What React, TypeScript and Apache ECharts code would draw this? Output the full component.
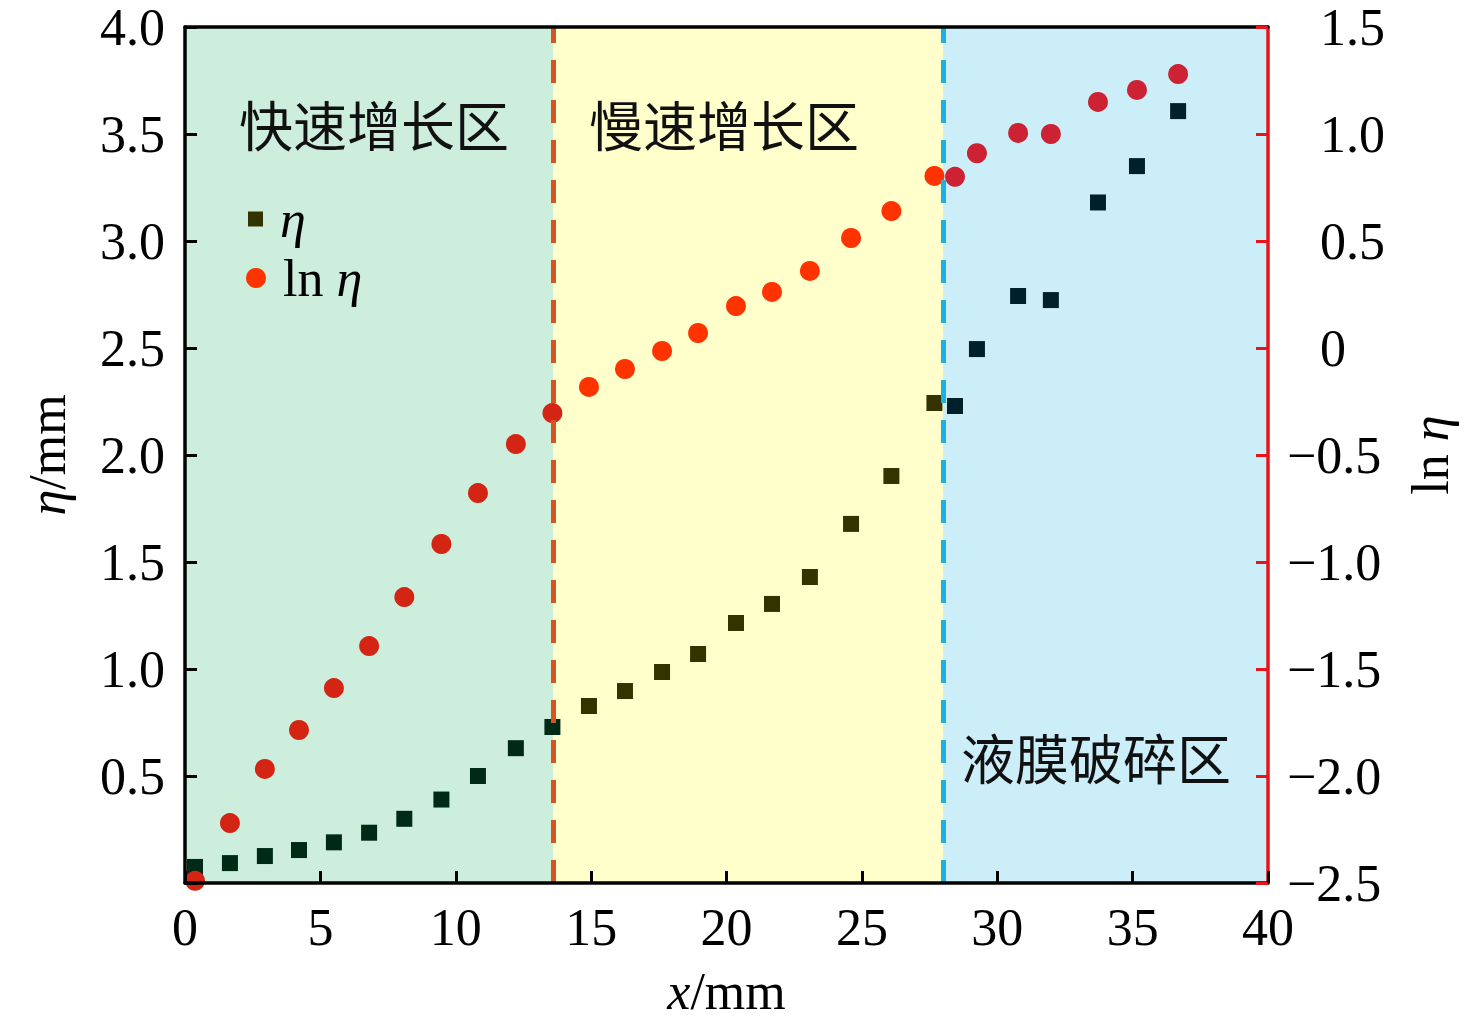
import React, { useEffect, useRef } from "react";
import * as echarts from "echarts";

const xValues = [0.37, 1.66, 2.95, 4.21, 5.5, 6.8, 8.1, 9.47, 10.82, 12.22, 13.57, 14.92, 16.25, 17.62, 18.95, 20.35, 21.68, 23.08, 24.6, 26.09, 27.68, 28.44, 29.25, 30.77, 31.98, 33.72, 35.16, 36.68];
const etaValues = [0.075, 0.093, 0.126, 0.154, 0.19, 0.235, 0.3, 0.39, 0.5, 0.63, 0.729, 0.827, 0.897, 0.986, 1.07, 1.215, 1.304, 1.43, 1.678, 1.902, 2.243, 2.229, 2.495, 2.743, 2.724, 3.18, 3.35, 3.607];
const lnEtaValues = [-2.49, -2.22, -1.967, -1.785, -1.589, -1.393, -1.164, -0.916, -0.678, -0.449, -0.304, -0.182, -0.098, -0.014, 0.07, 0.196, 0.262, 0.36, 0.514, 0.64, 0.804, 0.8, 0.91, 1.005, 1.0, 1.15, 1.206, 1.28];

const regionBounds = [0, 13.6, 28, 40];
const regionNames = ["快速增长区", "慢速增长区", "液膜破碎区"];
const regionFills = ["#cdeedc", "#ffffcc", "#cbeef9"];
const boundaryColors = ["#d9531e", "#1ab2e6"];
const etaColors = ["#002a18", "#333300", "#00202c"];
const lnColors = ["#d42414", "#ff3300", "#cc2233"];

const FONT = "'Liberation Serif', 'Noto Sans CJK SC', serif";
const CJK = "'Noto Sans CJK SC', sans-serif";
const FS = 52;

function regionIndex(x: number) {
  if (x < regionBounds[1]) return 0;
  if (x < regionBounds[2]) return 1;
  return 2;
}

export default function App() {
  const ref = useRef<HTMLDivElement>(null);
  useEffect(() => {
    const chart = echarts.init(ref.current!, undefined, { renderer: "svg" });
    const italicRich = { i: { fontStyle: "italic", fontSize: FS, fontFamily: FONT, color: "#000" } };
    const option: any = {
      animation: false,
      backgroundColor: "#fff",
      grid: { left: 185, top: 27, right: 208, bottom: 145, show: false },
      legend: [
        {
          data: [{ name: "η", icon: "rect" }],
          left: 243,
          top: 188,
          itemWidth: 15,
          itemHeight: 15,
          selectedMode: false,
          formatter: () => "{i|η}",
          textStyle: { fontSize: FS, fontFamily: FONT, color: "#000", padding: [0, 0, 0, 12], rich: italicRich },
        },
        {
          data: [{ name: "ln η", icon: "circle" }],
          left: 241,
          top: 247,
          itemWidth: 20,
          itemHeight: 20,
          selectedMode: false,
          formatter: () => "ln {i|η}",
          textStyle: { fontSize: FS, fontFamily: FONT, color: "#000", padding: [0, 0, 0, 12], rich: italicRich },
        },
      ],
      xAxis: [
        {
          type: "value",
          min: 0,
          max: 40,
          interval: 5,
          position: "bottom",
          z: 10,
          name: "{i|x}/mm",
          nameLocation: "middle",
          nameGap: 82,
          nameTextStyle: { fontSize: FS, fontFamily: FONT, color: "#000", rich: italicRich },
          axisLine: { show: true, onZero: false, lineStyle: { color: "#000", width: 3.5 } },
          axisTick: { show: true, inside: true, length: 12, lineStyle: { color: "#000", width: 3 } },
          axisLabel: { fontSize: FS, fontFamily: FONT, color: "#000", margin: 18 },
          splitLine: { show: false },
        },
        {
          type: "value",
          min: 0,
          max: 40,
          position: "top",
          z: 10,
          axisLine: { show: true, onZero: false, lineStyle: { color: "#000", width: 3.5 } },
          axisTick: { show: false },
          axisLabel: { show: false },
          splitLine: { show: false },
        },
      ],
      yAxis: [
        {
          type: "value",
          min: 0,
          max: 4,
          interval: 0.5,
          position: "left",
          z: 10,
          name: "{i|η}/mm",
          nameLocation: "middle",
          nameRotate: 90,
          nameGap: 112,
          nameTextStyle: { fontSize: FS, fontFamily: FONT, color: "#000", rich: italicRich },
          axisLine: { show: true, onZero: false, lineStyle: { color: "#000", width: 3.5 } },
          axisTick: { show: true, inside: true, length: 12, lineStyle: { color: "#000", width: 3 } },
          axisLabel: {
            fontSize: FS,
            fontFamily: FONT,
            color: "#000",
            margin: 20,
            formatter: (v: number) => (v === 0 ? "" : v.toFixed(1)),
          },
          splitLine: { show: false },
        },
        {
          type: "value",
          min: -2.5,
          max: 1.5,
          interval: 0.5,
          position: "right",
          z: 10,
          name: "ln {i|η}",
          nameLocation: "middle",
          nameRotate: 90,
          nameGap: 136,
          nameTextStyle: { fontSize: FS, fontFamily: FONT, color: "#000", rich: italicRich },
          axisLine: { show: true, onZero: false, lineStyle: { color: "#e8141c", width: 3.5 } },
          axisTick: { show: true, inside: true, length: 12, lineStyle: { color: "#e8141c", width: 3 } },
          axisLabel: {
            fontSize: FS,
            fontFamily: FONT,
            color: "#000",
            margin: 19,
            align: "left",
            formatter: (v: number) => {
              if (Math.abs(v) < 1e-9) return "{p|0}";
              if (v < 0) return "{n|−" + Math.abs(v).toFixed(1) + "}";
              return "{p|" + v.toFixed(1) + "}";
            },
            rich: {
              p: { fontSize: FS, fontFamily: FONT, color: "#000", padding: [0, 0, 0, 33] },
              n: { fontSize: FS, fontFamily: FONT, color: "#000" },
            },
          },
          splitLine: { show: false },
        },
      ],
      series: [
        {
          name: "regions",
          type: "scatter",
          xAxisIndex: 0,
          yAxisIndex: 0,
          data: [],
          z: 1,
          silent: true,
          markArea: {
            silent: true,
            data: regionFills.map((c, i) => [
              { xAxis: regionBounds[i], itemStyle: { color: c, opacity: 1 } },
              { xAxis: regionBounds[i + 1] },
            ]),
          },
        },
        {
          name: "η",
          type: "scatter",
          xAxisIndex: 0,
          yAxisIndex: 0,
          symbol: "rect",
          symbolSize: 16,
          z: 3,
          itemStyle: { color: etaColors[1], opacity: 1 },
          data: xValues.map((x, i) => ({ value: [x, etaValues[i]], itemStyle: { color: etaColors[regionIndex(x)], opacity: 1 } })),
        },
        {
          name: "ln η",
          type: "scatter",
          xAxisIndex: 0,
          yAxisIndex: 1,
          symbol: "circle",
          symbolSize: 20,
          z: 3,
          itemStyle: { color: lnColors[1], opacity: 1 },
          data: xValues.map((x, i) => ({ value: [x, lnEtaValues[i]], itemStyle: { color: lnColors[regionIndex(x)], opacity: 1 } })),
        },
        {
          name: "boundaries",
          type: "scatter",
          xAxisIndex: 0,
          yAxisIndex: 0,
          data: [],
          z: 5,
          silent: true,
          markLine: {
            silent: true,
            symbol: "none",
            label: { show: false },
            data: [1, 2].map((k) => ({
              xAxis: regionBounds[k],
              lineStyle: { color: boundaryColors[k - 1], type: [23, 17], width: 5 },
            })),
          },
        },
      ],
      graphic: [
        { type: "text", left: 239, top: 127 - 31, z: 20, style: { text: regionNames[0], font: `54px ${CJK}`, fill: "#111" } },
        { type: "text", left: 589, top: 127 - 31, z: 20, style: { text: regionNames[1], font: `54px ${CJK}`, fill: "#111" } },
        { type: "text", left: 961, top: 760 - 31, z: 20, style: { text: regionNames[2], font: `54px ${CJK}`, fill: "#111" } },
      ],
    };
    chart.setOption(option);
    return () => chart.dispose();
  }, []);
  return <div ref={ref} style={{ position: "fixed", left: 0, top: 0, width: 1476, height: 1028 }} />;
}
